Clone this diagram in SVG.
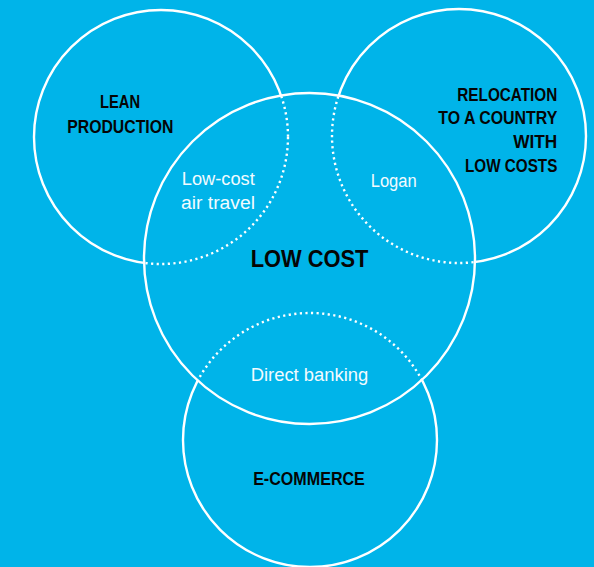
<svg xmlns="http://www.w3.org/2000/svg" width="594" height="567" viewBox="0 0 594 567">
  <style>
    .solid { fill: none; stroke: #ffffff; stroke-width: 2.4; }
    .dotted { fill: none; stroke: #ffffff; stroke-width: 2.4; stroke-dasharray: 2.2 3.4; }
    .title { font-family: "Liberation Sans", Arial, sans-serif; font-weight: bold; font-size: 17.5px; fill: #050505; }
    .big { font-family: "Liberation Sans", Arial, sans-serif; font-weight: bold; font-size: 23.5px; fill: #050505; }
    .label { font-family: "Liberation Sans", Arial, sans-serif; font-size: 18px; fill: #f2fbff; }
  </style>
  <defs>
    <clipPath id="inC">
      <circle cx="309.5" cy="258.5" r="165.5"/>
    </clipPath>
    <clipPath id="outC">
      <path clip-rule="evenodd" d="M0 0H594V567H0Z M144 258.5a165.5 165.5 0 1 0 331 0a165.5 165.5 0 1 0 -331 0Z"/>
    </clipPath>
  </defs>
  <rect x="0" y="0" width="594" height="567" fill="#00b4e9"/>

  <g id="lean-production">
    <circle class="solid" cx="161" cy="137" r="127" clip-path="url(#outC)"/>
    <circle class="dotted" cx="161" cy="137" r="127" clip-path="url(#inC)"/>
    <text class="title" x="120" y="108.3" text-anchor="middle" textLength="40" lengthAdjust="spacingAndGlyphs">LEAN</text>
    <text class="title" x="120.3" y="132.7" text-anchor="middle" textLength="106" lengthAdjust="spacingAndGlyphs">PRODUCTION</text>
  </g>

  <g id="relocation">
    <circle class="solid" cx="459" cy="136" r="127" clip-path="url(#outC)"/>
    <circle class="dotted" cx="459" cy="136" r="127" clip-path="url(#inC)"/>
    <text class="title" x="557.3" y="100.7" text-anchor="end" textLength="100" lengthAdjust="spacingAndGlyphs">RELOCATION</text>
    <text class="title" x="557.3" y="124.3" text-anchor="end" textLength="119" lengthAdjust="spacingAndGlyphs">TO A COUNTRY</text>
    <text class="title" x="557.3" y="148.3" text-anchor="end" textLength="44" lengthAdjust="spacingAndGlyphs">WITH</text>
    <text class="title" x="557.3" y="172" text-anchor="end" textLength="92.3" lengthAdjust="spacingAndGlyphs">LOW COSTS</text>
  </g>

  <g id="e-commerce">
    <circle class="solid" cx="310" cy="440" r="127" clip-path="url(#outC)"/>
    <circle class="dotted" cx="310" cy="440" r="127" clip-path="url(#inC)"/>
    <text class="title" x="309" y="484.7" text-anchor="middle" textLength="111.7" lengthAdjust="spacingAndGlyphs">E-COMMERCE</text>
  </g>

  <g id="low-cost">
    <circle class="solid" cx="309.5" cy="258.5" r="165.5"/>
    <text class="big" x="309.5" y="267.3" text-anchor="middle" textLength="117.7" lengthAdjust="spacingAndGlyphs">LOW COST</text>
  </g>

  <g id="low-cost-air-travel">
    <text class="label" x="218.3" y="185" text-anchor="middle" textLength="73" lengthAdjust="spacingAndGlyphs">Low-cost</text>
    <text class="label" x="218" y="208.5" text-anchor="middle" textLength="74" lengthAdjust="spacingAndGlyphs">air travel</text>
  </g>

  <g id="logan">
    <text class="label" x="393.7" y="186.5" text-anchor="middle" textLength="46" lengthAdjust="spacingAndGlyphs">Logan</text>
  </g>

  <g id="direct-banking">
    <text class="label" x="309.5" y="380.7" text-anchor="middle" textLength="117.6" lengthAdjust="spacingAndGlyphs">Direct banking</text>
  </g>

  <g id="connectors"></g>
</svg>
